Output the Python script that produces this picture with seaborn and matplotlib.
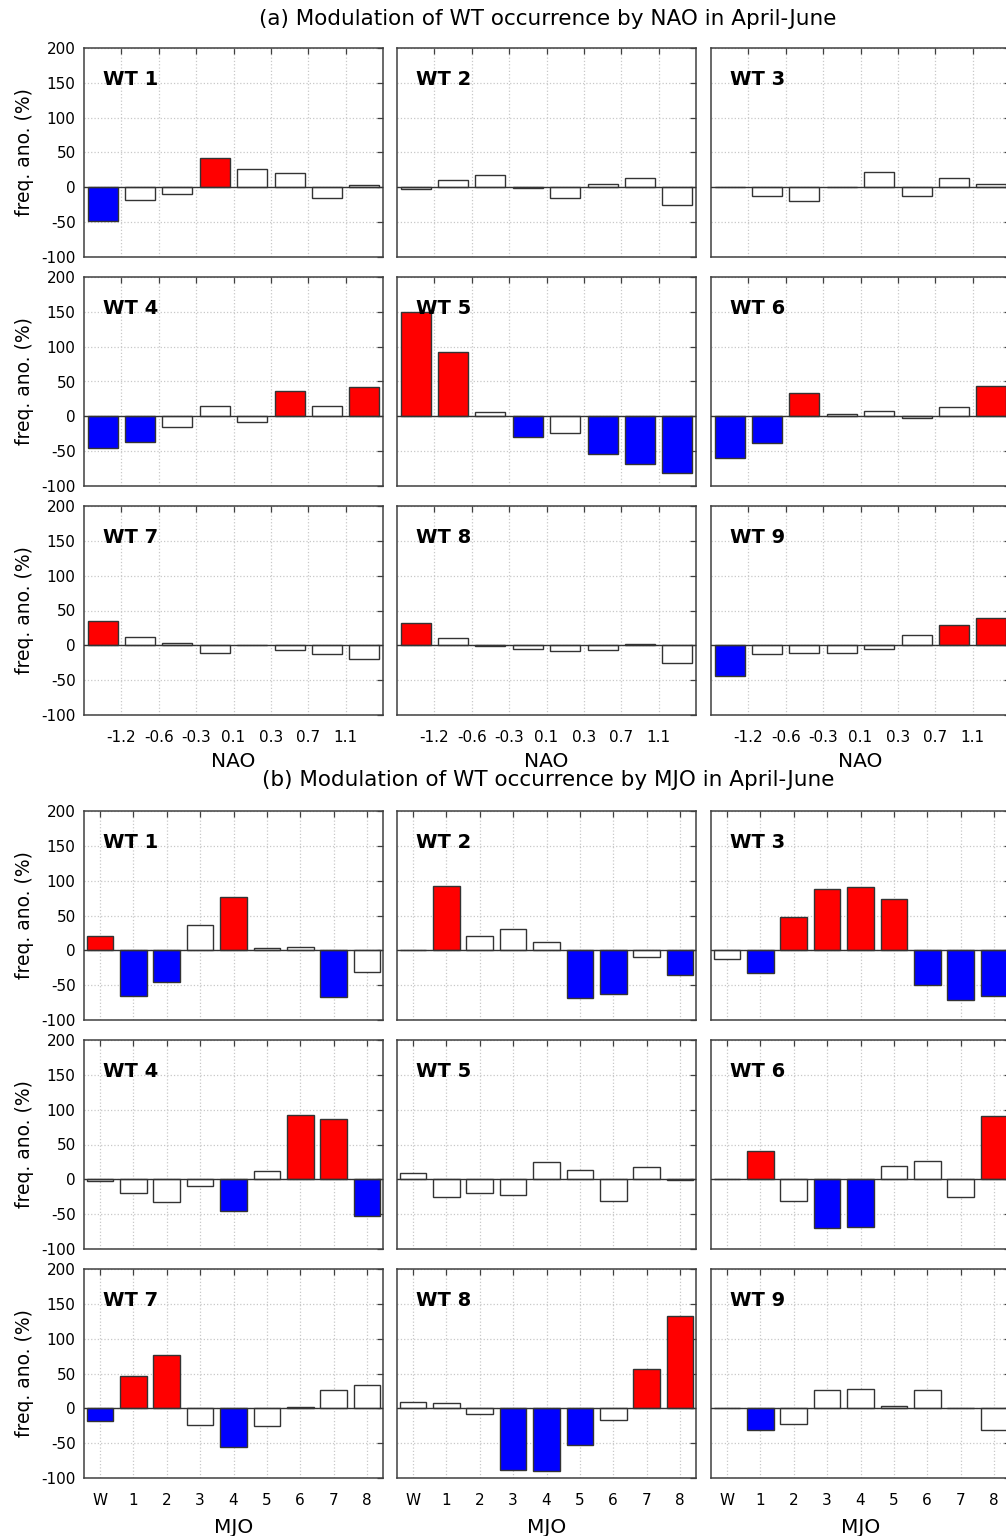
import numpy as np
import pandas as pd
import matplotlib
matplotlib.use("Agg")
import matplotlib.pyplot as plt
import seaborn as sns

sns.set_style("white")
plt.rcParams["font.family"] = ["DejaVu Sans"]
plt.rcParams["axes.unicode_minus"] = False
plt.rcParams["text.color"] = "black"
plt.rcParams["axes.labelcolor"] = "black"
plt.rcParams["xtick.color"] = "black"
plt.rcParams["ytick.color"] = "black"

# ---------------- data ----------------
nao_bins = ["n1", "n2", "n3", "n4", "n5", "n6", "n7", "n8"]
nao_ticklabels = ["-1.2", "-0.6", "-0.3", "0.1", "0.3", "0.7", "1.1"]
mjo_bins = ["W", "1", "2", "3", "4", "5", "6", "7", "8"]
y_ticks = [-100, -50, 0, 50, 100, 150, 200]
y_ticklabels = ["-100", "-50", "0", "50", "100", "150", "200"]

nao_wt1 = [-48, -18, -10, 42, 26, 20, -16, 4]
nao_wt2 = [-2, 10, 18, -1, -15, 5, 14, -26]
nao_wt3 = [1, -12, -19, 1, 22, -13, 14, 5]
nao_wt4 = [-45, -37, -15, 15, -8, 37, 15, 42]
nao_wt5 = [150, 93, 6, -30, -24, -54, -69, -81]
nao_wt6 = [-60, -38, 34, 3, 8, -2, 14, 44]
nao_wt7 = [35, 12, 4, -11, 1, -6, -13, -19]
nao_wt8 = [32, 10, -1, -5, -8, -6, 2, -25]
nao_wt9 = [-44, -12, -11, -11, -5, 15, 29, 39]

nao_sig1 = [1, 0, 0, 1, 0, 0, 0, 0]
nao_sig2 = [0, 0, 0, 0, 0, 0, 0, 0]
nao_sig3 = [0, 0, 0, 0, 0, 0, 0, 0]
nao_sig4 = [1, 1, 0, 0, 0, 1, 0, 1]
nao_sig5 = [1, 1, 0, 1, 0, 1, 1, 1]
nao_sig6 = [1, 1, 1, 0, 0, 0, 0, 1]
nao_sig7 = [1, 0, 0, 0, 0, 0, 0, 0]
nao_sig8 = [1, 0, 0, 0, 0, 0, 0, 0]
nao_sig9 = [1, 0, 0, 0, 0, 0, 1, 1]

mjo_wt1 = [20, -66, -46, 37, 76, 3, 5, -67, -31]
mjo_wt2 = [0, 92, 20, 30, 12, -68, -63, -10, -35]
mjo_wt3 = [-12, -32, 48, 88, 91, 74, -50, -72, -66]
mjo_wt4 = [-2, -20, -33, -10, -45, 12, 92, 87, -53]
mjo_wt5 = [9, -25, -19, -23, 25, 13, -31, 17, -1]
mjo_wt6 = [0, 41, -31, -70, -69, 19, 26, -25, 91]
mjo_wt7 = [-18, 46, 76, -24, -56, -25, 2, 27, 34]
mjo_wt8 = [9, 8, -8, -88, -90, -52, -17, 56, 132]
mjo_wt9 = [0, -31, -22, 27, 28, 3, 27, 1, -31]

mjo_sig1 = [1, 1, 1, 0, 1, 0, 0, 1, 0]
mjo_sig2 = [0, 1, 0, 0, 0, 1, 1, 0, 1]
mjo_sig3 = [0, 1, 1, 1, 1, 1, 1, 1, 1]
mjo_sig4 = [0, 0, 0, 0, 1, 0, 1, 1, 1]
mjo_sig5 = [0, 0, 0, 0, 0, 0, 0, 0, 0]
mjo_sig6 = [0, 1, 0, 1, 1, 0, 0, 0, 1]
mjo_sig7 = [1, 1, 1, 0, 1, 0, 0, 0, 0]
mjo_sig8 = [0, 0, 0, 1, 1, 1, 0, 1, 1]
mjo_sig9 = [0, 1, 0, 0, 0, 0, 0, 0, 0]

nao_values = [nao_wt1, nao_wt2, nao_wt3, nao_wt4, nao_wt5, nao_wt6, nao_wt7, nao_wt8, nao_wt9]
nao_sigs = [nao_sig1, nao_sig2, nao_sig3, nao_sig4, nao_sig5, nao_sig6, nao_sig7, nao_sig8, nao_sig9]
mjo_values = [mjo_wt1, mjo_wt2, mjo_wt3, mjo_wt4, mjo_wt5, mjo_wt6, mjo_wt7, mjo_wt8, mjo_wt9]
mjo_sigs = [mjo_sig1, mjo_sig2, mjo_sig3, mjo_sig4, mjo_sig5, mjo_sig6, mjo_sig7, mjo_sig8, mjo_sig9]

# ---------------- style ----------------
RED = "#ff0000"
BLUE = "#0000ff"
WHITE = "#ffffff"
EDGE = "#333333"
SPINE = "#404040"

W, H = 1006, 1536
fig = plt.figure(figsize=(W / 100, H / 100), dpi=100)

col_left = [84, 397, 711]
ax_w, ax_h = 299, 209
nao_top = [48, 277, 506]
mjo_top = [811, 1040, 1269]


def add_ax(left, top):
    return fig.add_axes([left / W, 1 - (top + ax_h) / H, ax_w / W, ax_h / H])


def panel(ax, cats, vals, sig, wt, row, col, xlabel, ticks, ticklabels, xlim, xpad, lpad):
    colors = {c: ((RED if v > 0 else BLUE) if s else WHITE) for c, v, s in zip(cats, vals, sig)}
    df = pd.DataFrame({"cat": cats, "val": vals})
    ax.set_axisbelow(True)
    sns.barplot(data=df, x="cat", y="val", hue="cat", palette=colors, legend=False,
                order=cats, hue_order=cats, width=0.8, saturation=1,
                edgecolor=EDGE, linewidth=1.0, ax=ax)
    ax.axhline(0, color=EDGE, linewidth=1.0, zorder=3)
    ax.set_xlim(*xlim)
    ax.set_ylim(-100, 200)
    ax.set_xticks(ticks)
    ax.set_xticklabels(ticklabels)
    ax.set_yticks(y_ticks)
    ax.set_yticklabels(y_ticklabels)
    ax.set_xlabel("")
    ax.set_ylabel("")
    for sp in ax.spines.values():
        sp.set_visible(True)
        sp.set_color(SPINE)
        sp.set_linewidth(1.1)
    ax.tick_params(direction="in", length=4, width=0.9, color=SPINE,
                   top=True, right=True, labelsize=11,
                   labelbottom=(row == 2), labelleft=(col == 0))
    ax.tick_params(axis="x", pad=xpad)
    ax.tick_params(axis="y", pad=6)
    ax.grid(True, color="#c8c8c8", linestyle=":", linewidth=0.9)
    if col == 0:
        ax.set_ylabel("freq. ano. (%)", fontsize=13.5, labelpad=5)
    if row == 2:
        ax.set_xlabel(xlabel, fontsize=14.5, labelpad=lpad)
    ax.text(0.065, 0.85, f"WT {wt}", transform=ax.transAxes, fontsize=14,
            fontweight="bold", ha="left", va="center", zorder=5)


for i in range(9):
    r, c = divmod(i, 3)
    ax = add_ax(col_left[c], nao_top[r])
    panel(ax, nao_bins, nao_values[i], nao_sigs[i], i + 1, r, c, "NAO",
          np.arange(0.5, 7.0, 1.0), nao_ticklabels, (-0.5, 7.5), 11, 5)

for i in range(9):
    r, c = divmod(i, 3)
    ax = add_ax(col_left[c], mjo_top[r])
    panel(ax, mjo_bins, mjo_values[i], mjo_sigs[i], i + 1, r, c, "MJO",
          np.arange(9), mjo_bins, (-0.48, 8.48), 11, 7)

fig.text(548 / W, 1 - 19 / H, "(a) Modulation of WT occurrence by NAO in April-June",
         ha="center", va="center", fontsize=15.5)
fig.text(548 / W, 1 - 780 / H, "(b) Modulation of WT occurrence by MJO in April-June",
         ha="center", va="center", fontsize=15.5)

fig.savefig("out.png", dpi=100, facecolor="white")
